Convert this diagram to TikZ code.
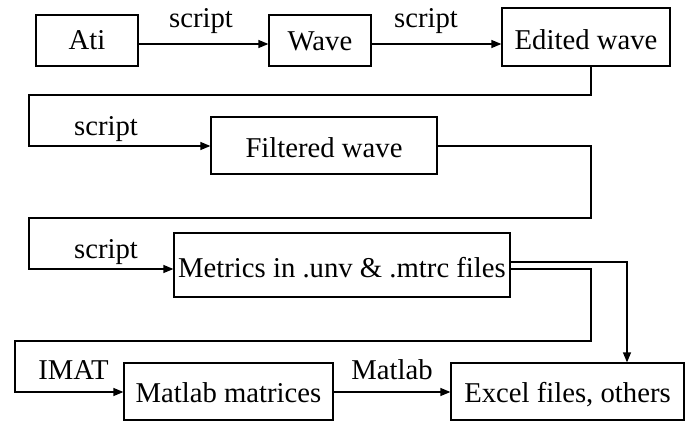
\documentclass[tikz,border=0pt]{standalone}
\usepackage{fontspec}
\setmainfont{Liberation Serif}
\usetikzlibrary{arrows.meta}

\begin{document}
\begin{tikzpicture}[x=1pt,y=-1pt,
  font=\fontsize{28.7}{32}\selectfont,
  line width=1.25pt,
  box/.style={draw, rectangle, inner sep=0pt, text depth=0pt},
  lbl/.style={anchor=base, inner sep=0pt},
  arr/.style={-{Triangle[length=10pt,width=8pt]}},
  wire/.style={line join=miter}]
  \useasboundingbox (0,0) rectangle (689,421);

  % process boxes
  \node[box, minimum width=102pt, minimum height=51pt, text height=17pt] (ati) at (87,40.5) {Ati};
  \node[box, minimum width=102pt, minimum height=51pt, text height=19pt] (wave) at (320,40.5) {Wave};
  \node[box, minimum width=168pt, minimum height=58pt, text height=24pt] (edited) at (586,37) {Edited wave};
  \node[box, minimum width=226pt, minimum height=57pt, text height=23pt] (filtered) at (324,145.5) {Filtered wave};
  \node[box, minimum width=336pt, minimum height=64pt, text height=24pt] (metrics) at (342,265) {Metrics in .unv \& .mtrc files};
  \node[box, minimum width=209pt, minimum height=57pt, text height=21pt] (matlab) at (228.5,391.5) {Matlab matrices};
  \node[box, minimum width=233pt, minimum height=57pt, text height=21pt] (excel) at (567.5,391.5) {Excel files, others};

  % rail positions for the connectors
  \coordinate (r1) at (0,44);
  \coordinate (r2) at (0,146);
  \coordinate (r3) at (0,269);
  \coordinate (r3b) at (0,262);
  \coordinate (r4) at (0,392);
  \coordinate (turnA) at (591,95);
  \coordinate (leftA) at (29,95);
  \coordinate (turnB) at (591,218);
  \coordinate (leftB) at (29,218);
  \coordinate (turnC) at (591,341);
  \coordinate (leftC) at (15,341);
  \coordinate (dropX) at (627,0);

  % connectors
  \draw[arr] (ati.east |- r1) -- (wave.west |- r1);
  \draw[arr] (wave.east |- r1) -- (edited.west |- r1);
  \draw[arr, wire] (edited.south -| turnA) -- (turnA) -- (leftA) |- (filtered.west |- r2);
  \draw[arr, wire] (filtered.east |- r2) -| (turnB) -- (leftB) |- (metrics.west |- r3);
  \draw[arr, wire] (metrics.east |- r3b) -| (excel.north -| dropX);
  \draw[arr, wire] (metrics.east |- r3) -| (turnC) -- (leftC) |- (matlab.west |- r4);
  \draw[arr] (matlab.east |- r4) -- (excel.west |- r4);

  % connector labels
  \node[lbl] (s1) at (201,27) {script};
  \node[lbl] (s2) at (426,27) {script};
  \node[lbl] (s3) at (106,135) {script};
  \node[lbl] (s4) at (106,258) {script};
  \node[lbl] (imat) at (73.5,379) {IMAT};
  \node[lbl] (mlab) at (392,379) {Matlab};
\end{tikzpicture}
\end{document}
